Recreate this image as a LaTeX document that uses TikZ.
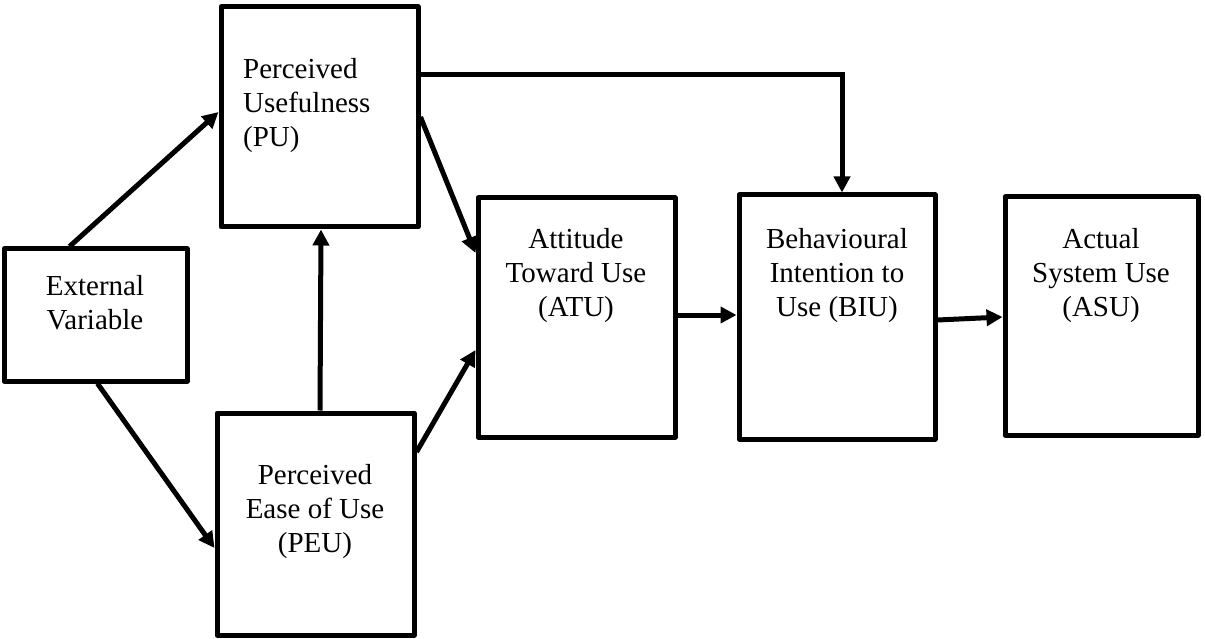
\documentclass[tikz,border=0pt]{standalone}
\usepackage{fontspec}
\setmainfont{Liberation Serif}
\usetikzlibrary{arrows.meta}
\begin{document}
\begin{tikzpicture}[x=1pt,y=-1pt,
  box/.style={draw,line width=5pt,line join=round,rectangle,inner sep=0pt},
  txt/.style={inner sep=0pt,align=center,font=\fontsize{29}{34}\selectfont},
  conn/.style={line width=5pt,-{Triangle[length=16pt,width=16pt]}}]
\useasboundingbox (0,0) rectangle (1205,639);
\node[box,minimum width=183pt,minimum height=132pt] (ext) at (95.5,315) {};
\node[box,minimum width=197pt,minimum height=220pt] (pu) at (319.5,117) {};
\node[box,minimum width=197pt,minimum height=222pt] (peu) at (315.5,524) {};
\node[box,minimum width=197pt,minimum height=239pt] (atu) at (576.5,317.5) {};
\node[box,minimum width=196pt,minimum height=244pt] (biu) at (837,317) {};
\node[box,minimum width=193pt,minimum height=238pt] (asu) at (1101.5,316) {};
\node[txt] (extt) at (95,303) {External\\Variable};
\node[txt,align=left,anchor=west] (put) at (243,106) {Perceived\\Usefulness\\(PU)};
\node[txt] (peut) at (315,512) {Perceived\\Ease of Use\\(PEU)};
\node[txt] (atut) at (576,276) {Attitude\\Toward Use\\(ATU)};
\node[txt] (biut) at (837,276) {Behavioural\\Intention to\\Use (BIU)};
\node[txt] (asut) at (1101,276) {Actual\\System Use\\(ASU)};
\draw[conn] ([xshift=-26pt]ext.north) -- ([yshift=5pt]pu.west);
\draw[conn] ([xshift=2pt]ext.south) -- ([yshift=-24pt]peu.west);
\draw[conn] ([xshift=4.5pt]peu.north) -- ([xshift=1.5pt]pu.south);
\draw[conn] (pu.east) -- ([yshift=64.5pt]atu.west);
\draw[conn] ([yshift=72pt]peu.east) -- ([yshift=-32.5pt]atu.west);
\draw[conn,line join=miter] ([yshift=42pt]pu.east) -| ([xshift=5pt]biu.north);
\draw[conn] ([yshift=2.5pt]atu.east) -- ([yshift=2pt]biu.west);
\draw[conn] ([yshift=-3pt]biu.east) -- ([yshift=-1pt]asu.west);
\end{tikzpicture}
\end{document}
